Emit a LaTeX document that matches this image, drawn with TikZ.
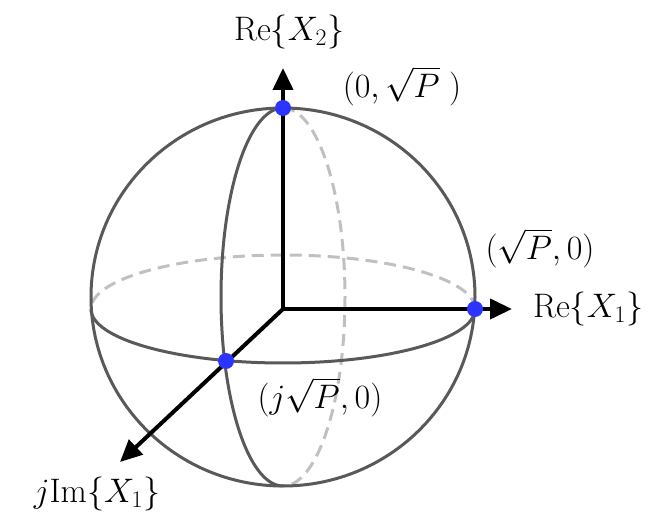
\RequirePackage{fix-cm}
\documentclass[tikz,border=0pt]{standalone}
\usetikzlibrary{arrows.meta}
\definecolor{sphgray}{HTML}{595959}
\definecolor{backgray}{HTML}{C0C0C0}
\definecolor{ptblue}{HTML}{2B35FF}
\tikzset{
  sphere/.style={draw=sphgray, line width=3pt},
  hidden/.style={draw=backgray, line width=3pt, dash pattern=on 12pt off 7pt},
  axis/.style={line width=4pt, -{Triangle[length=22pt,width=20pt]}},
  point/.style={circle, fill=ptblue, inner sep=0pt, minimum size=16pt},
  lbl/.style={font=\fontsize{34}{38}\selectfont, inner sep=0pt},
}
\begin{document}
\begin{tikzpicture}[x=1pt,y=-1pt]
\useasboundingbox (0,0) rectangle (651,518);
\coordinate (O) at (283,309);
\coordinate (C) at (283,297);
\coordinate (up) at (283,68);
\coordinate (rt) at (512,309);
\coordinate (dg) at (120,462);
% hidden halves
\draw[hidden] (O) ++(192,0) arc[start angle=0, end angle=180, x radius=192pt, y radius=54pt];
\draw[hidden] (C) ++(0,-189) arc[start angle=90, end angle=-90, x radius=62pt, y radius=189pt];
% visible sphere
\draw[sphere] (C) ellipse [x radius=192pt, y radius=189pt];
\draw[sphere] (O) ++(-192,0) arc[start angle=180, end angle=360, x radius=192pt, y radius=54pt];
\draw[sphere] (C) ++(0,-189) arc[start angle=90, end angle=270, x radius=62pt, y radius=189pt];
% axes
\draw[axis] (O) -- (up);
\draw[axis] (O) -- (rt);
\draw[axis] (O) -- (dg);
% points
\node[point] (top) at (283,108) {};
\node[point] (right) at (475,309) {};
\node[point] (front) at (226,361) {};
% labels
\node[lbl] (re2) at (289,32) {$\mathrm{Re}\{X_2\}$};
\node[lbl] (re1) at (588,309) {$\mathrm{Re}\{X_1\}$};
\node[lbl] (im1) at (97,494) {$j\mathrm{Im}\{X_1\}$};
\node[lbl] (ptop) at (402,86) {$\Bigl(0,\sqrt{P}\;\Bigr)$};
\node[lbl] (pright) at (540,248) {$\Bigl(\sqrt{P},0\Bigr)$};
\node[lbl] (pfront) at (320,397) {$\Bigl(j\sqrt{P},0\Bigr)$};
\end{tikzpicture}
\end{document}
